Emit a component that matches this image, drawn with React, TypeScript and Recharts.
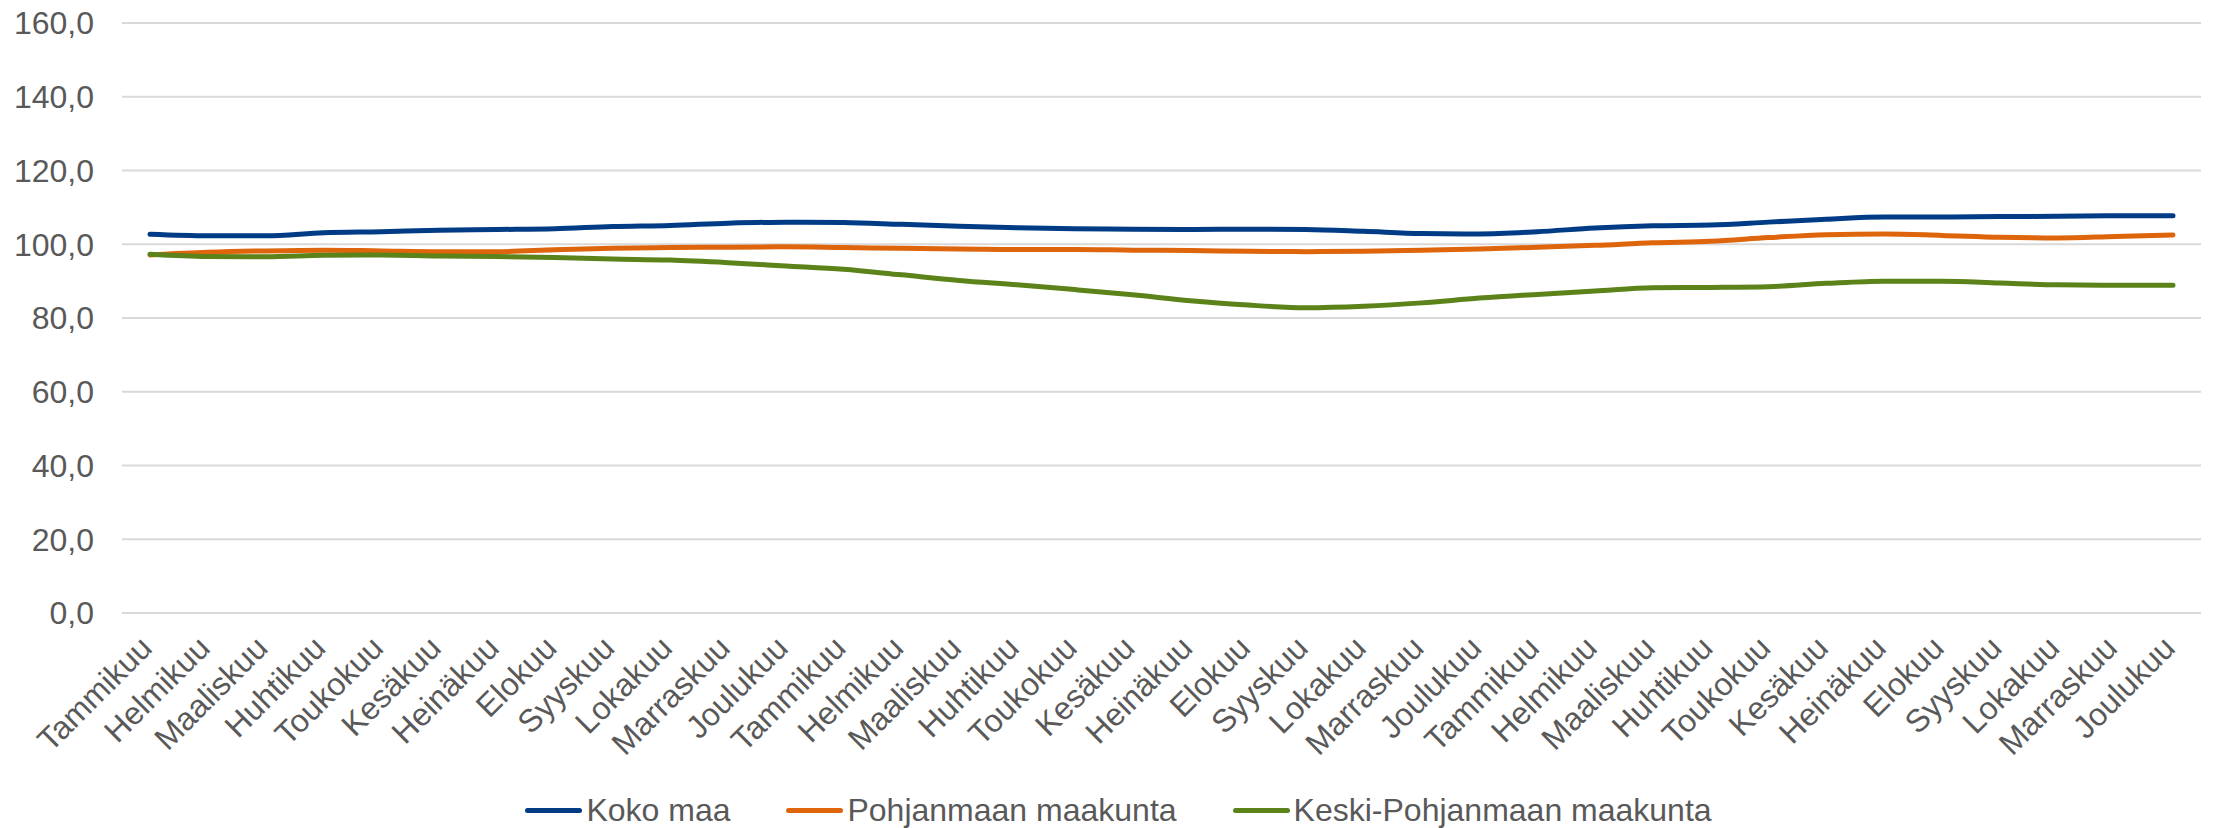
import { CartesianGrid, Legend, Line, LineChart, XAxis, YAxis } from "recharts";

const MONTHS = [
  "Tammikuu", "Helmikuu", "Maaliskuu", "Huhtikuu", "Toukokuu", "Kesäkuu",
  "Heinäkuu", "Elokuu", "Syyskuu", "Lokakuu", "Marraskuu", "Joulukuu",
];
// three years of months on the category axis
const CATEGORIES = [...MONTHS, ...MONTHS, ...MONTHS];

const KOKO_MAA = [
  102.7, 102.3, 102.3, 103.1, 103.4, 103.8, 104.0, 104.2, 104.8, 105.1, 105.7, 106.0,
  105.9, 105.4, 104.9, 104.5, 104.2, 104.1, 104.0, 104.1, 104.0, 103.5, 102.9, 102.8,
  103.4, 104.4, 105.0, 105.2, 106.0, 106.8, 107.4, 107.4, 107.5, 107.6, 107.7, 107.7,
];
const POHJANMAA = [
  97.1, 97.8, 98.2, 98.4, 98.2, 98.0, 98.0, 98.5, 98.9, 99.1, 99.2, 99.3,
  99.1, 98.9, 98.7, 98.6, 98.6, 98.4, 98.3, 98.1, 98.0, 98.1, 98.4, 98.7,
  99.2, 99.7, 100.4, 100.8, 101.8, 102.6, 102.8, 102.4, 101.9, 101.7, 102.1, 102.5,
];
const KESKI_POHJANMAA = [
  97.3, 96.7, 96.6, 97.0, 97.1, 96.8, 96.7, 96.4, 96.0, 95.7, 95.0, 94.1,
  93.2, 91.7, 90.2, 89.0, 87.7, 86.3, 84.7, 83.5, 82.8, 83.2, 84.1, 85.4,
  86.4, 87.3, 88.2, 88.3, 88.5, 89.4, 90.0, 90.0, 89.5, 89.0, 88.9, 88.9,
];
const Y_TICKS = [0, 20, 40, 60, 80, 100, 120, 140, 160];

const SERIES = [
  { key: "koko", name: "Koko maa", color: "#003B86" },
  { key: "pohj", name: "Pohjanmaan maakunta", color: "#DE650C" },
  { key: "keski", name: "Keski-Pohjanmaan maakunta", color: "#5C821A" },
];

const data = CATEGORIES.map((month, i) => ({
  month,
  koko: KOKO_MAA[i],
  pohj: POHJANMAA[i],
  keski: KESKI_POHJANMAA[i],
}));

const FONT = "'Liberation Sans', Arial, sans-serif";
const TEXT = "#595959";
const SIZE = 32;

const fmt = (v: number) => v.toFixed(1).replace(".", ",");

function MonthTick({ x, y, payload }: any) {
  return (
    <g transform={`translate(${x - 4},${y})`}>
      <text
        x={0}
        y={0}
        dy="0.35em"
        textAnchor="end"
        transform="rotate(-45)"
        fill={TEXT}
        fontSize={SIZE}
        fontFamily={FONT}
      >
        {payload.value}
      </text>
    </g>
  );
}

// legend keeps the series order (recharts would sort it by name)
function LegendContent() {
  return (
    <div
      style={{
        display: "flex",
        justifyContent: "center",
        alignItems: "center",
        height: 36,
        paddingLeft: 36,
        fontFamily: FONT,
        fontSize: SIZE,
        color: TEXT,
      }}
    >
      {SERIES.map((s, i) => (
        <span
          key={s.key}
          style={{ display: "flex", alignItems: "center", marginLeft: i === 0 ? 0 : 56 }}
        >
          <span
            style={{ width: 57, height: 5, background: s.color, borderRadius: 3, marginRight: 4 }}
          />
          <span>{s.name}</span>
        </span>
      ))}
    </div>
  );
}

export default function App() {
  return (
    <div>
      <style>{"body{margin:0;background:#fff}"}</style>
      <LineChart
        width={2216}
        height={828}
        data={data}
        margin={{ top: 23, right: 15, left: 0, bottom: 0 }}
      >
        <CartesianGrid stroke="#d9d9d9" strokeWidth={2} vertical={false} />
        <XAxis
          dataKey="month"
          interval={0}
          padding={{ left: 28, right: 28 }}
          axisLine={false}
          tickLine={false}
          tickSize={0}
          tickMargin={29}
          height={179}
          tick={<MonthTick />}
        />
        <YAxis
          domain={[0, 160]}
          ticks={Y_TICKS}
          tickFormatter={fmt}
          axisLine={false}
          tickLine={false}
          tickSize={0}
          tickMargin={28}
          width={122}
          tick={{ fill: TEXT, fontSize: SIZE, fontFamily: FONT }}
        />
        <Legend verticalAlign="bottom" content={<LegendContent />} />
        {SERIES.map((s) => (
          <Line
            key={s.key}
            type="monotone"
            dataKey={s.key}
            name={s.name}
            stroke={s.color}
            strokeWidth={5}
            strokeLinecap="round"
            dot={false}
            isAnimationActive={false}
          />
        ))}
      </LineChart>
    </div>
  );
}
